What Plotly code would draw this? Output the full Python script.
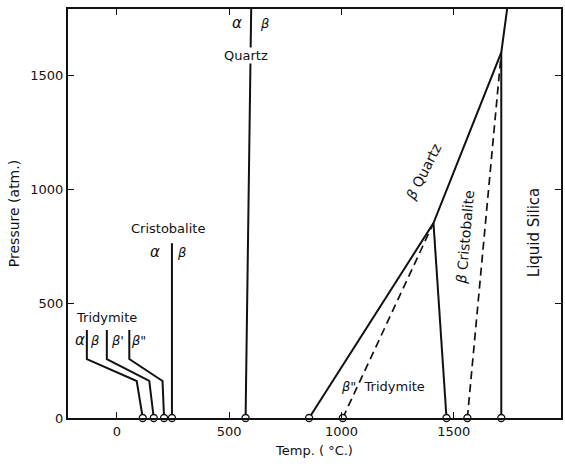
import plotly.graph_objects as go

# Phase boundaries of SiO2: temperature (deg C) vs pressure (atm)
tri_ab_T = [115, 88, -134, -134]
tri_ab_P = [0, 162, 258, 385]
tri_bb1_T = [164, 144, -45, -45]
tri_bb1_P = [0, 162, 258, 385]
tri_b1b2_T = [210, 203, 55, 55]
tri_b1b2_P = [0, 162, 258, 385]

cris_ab_T = [245, 245]
cris_ab_P = [0, 765]

quartz_ab_T = [573, 598]
quartz_ab_P = [0, 1790]

quartz_high_T = [856, 1410, 1712, 1738]
quartz_high_P = [0, 853, 1600, 1790]

trid_cris_T = [1468, 1410]
trid_cris_P = [0, 853]

liquid_T = [1712, 1712]
liquid_P = [0, 1600]

meta_trid_T = [1006, 1410]
meta_trid_P = [0, 853]

meta_cris_T = [1561, 1712]
meta_cris_P = [0, 1600]

# transition temperatures at 1 atm (open circles)
circle_T = [115, 164, 210, 245, 573, 856, 1006, 1468, 1561, 1712]
circle_P = [0] * len(circle_T)

x_ticks = [0, 500, 1000, 1500]
y_ticks = [0, 500, 1000, 1500]

FONT = "DejaVu Sans"
BLACK = "#111111"

fig = go.Figure()

solid = dict(color=BLACK, width=2)
dashed = dict(color=BLACK, width=1.7, dash="8px,5px")

for xs, ys, ln in [
    (tri_ab_T, tri_ab_P, solid),
    (tri_bb1_T, tri_bb1_P, solid),
    (tri_b1b2_T, tri_b1b2_P, solid),
    (cris_ab_T, cris_ab_P, solid),
    (quartz_ab_T, quartz_ab_P, solid),
    (quartz_high_T, quartz_high_P, solid),
    (trid_cris_T, trid_cris_P, solid),
    (liquid_T, liquid_P, solid),
    (meta_trid_T, meta_trid_P, dashed),
    (meta_cris_T, meta_cris_P, dashed),
]:
    fig.add_trace(go.Scatter(x=xs, y=ys, mode="lines", line=ln,
                             hoverinfo="skip", showlegend=False))

fig.add_trace(go.Scatter(
    x=circle_T, y=circle_P, mode="markers", cliponaxis=False,
    marker=dict(size=7, color="white", line=dict(color=BLACK, width=1.3)),
    hoverinfo="skip", showlegend=False))

def label(text, x, y, size=13, angle=0, bg=None):
    fig.add_annotation(x=x, y=y, text=text, showarrow=False, textangle=angle,
                       font=dict(family=FONT, size=size, color=BLACK),
                       bgcolor=bg, borderpad=0, xanchor="center", yanchor="middle")

# Tridymite low-temperature forms
label("Tridymite", -45, 442, 13)
label("<i>α</i>", -165, 341, 15)
label("<i>β</i>", -98, 341, 13)
label("<i>β</i>'", 2, 341, 13)
label("<i>β</i>\"", 95, 341, 13)

# Cristobalite
label("Cristobalite", 226, 831, 13)
label("<i>α</i>", 168, 726, 15)
label("<i>β</i>", 288, 726, 13)

# Quartz
label("<i>α</i>", 536, 1727, 15)
label("<i>β</i>", 656, 1727, 13)
label("Quartz", 576, 1585, 13, bg="white")

# High-temperature fields
label("<i>β</i> Quartz", 1366, 1076, 14, angle=-63)
label("<i>β</i> Cristobalite", 1552, 791, 14, angle=-85)
label("Liquid Silica", 1858, 809, 15, angle=-90)
label("<i>β</i>\"  Tridymite", 1184, 136, 13)

axis_common = dict(
    showline=True, linecolor=BLACK, linewidth=2, mirror="ticks",
    ticks="inside", ticklen=6, tickwidth=1.3, tickcolor=BLACK,
    showgrid=False, zeroline=False,
    tickfont=dict(family=FONT, size=13, color=BLACK),
)

fig.update_layout(
    width=565, height=466,
    margin=dict(l=68, r=2, t=9, b=48),
    paper_bgcolor="white", plot_bgcolor="white",
    xaxis=dict(range=[-218, 1978], tickvals=x_ticks,
               title=dict(text="Temp. ( °C.)", standoff=8,
                          font=dict(family=FONT, size=13, color=BLACK)),
               **axis_common),
    yaxis=dict(range=[0, 1790], tickvals=y_ticks,
               title=dict(text="Pressure (atm.)", standoff=7,
                          font=dict(family=FONT, size=14, color=BLACK)),
               **axis_common),
)

fig.write_html("out.html")
